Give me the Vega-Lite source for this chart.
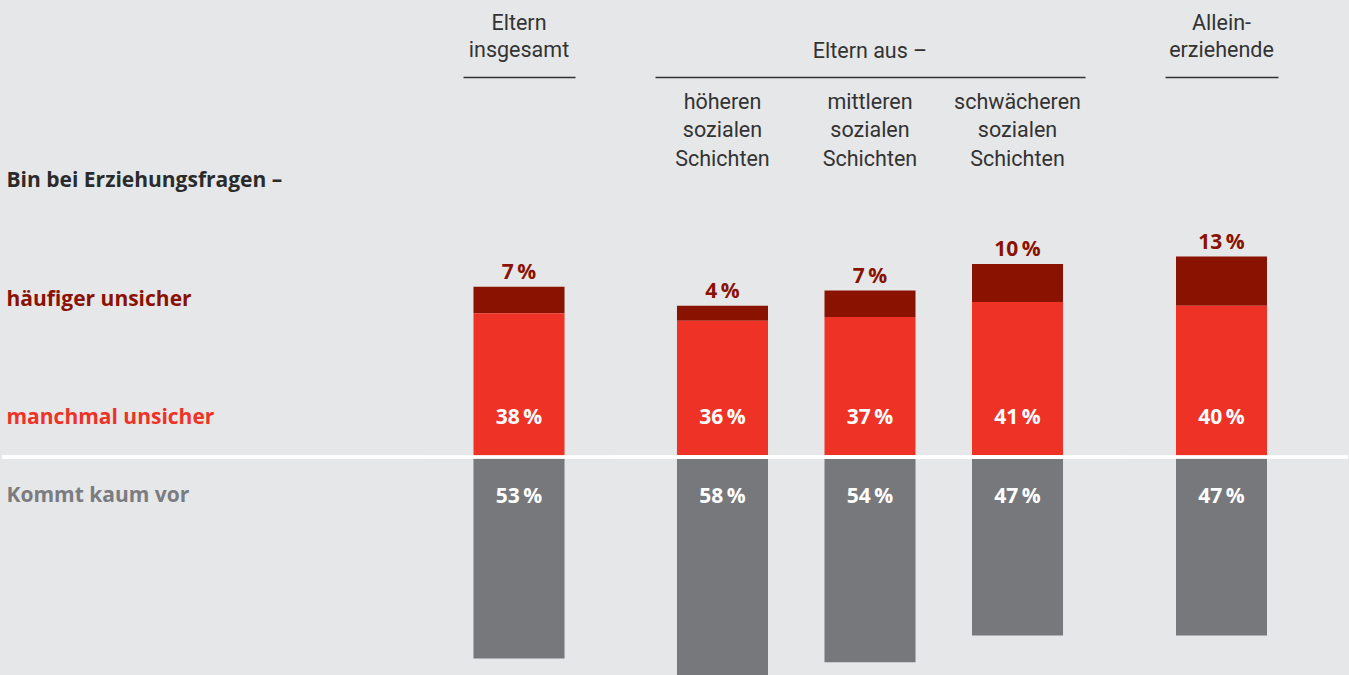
{
  "$schema": "https://vega.github.io/schema/vega-lite/v6.json",
  "background": "#e6e7e9",
  "padding": {"left": 0, "top": 12, "right": 0, "bottom": 0},
  "autosize": {"type": "pad"},
  "config": {
    "view": {"stroke": null},
    "font": "Roboto",
    "title": {"font": "Roboto", "fontSize": 21.5, "fontWeight": "normal", "color": "#333333", "lineHeight": 27.7, "offset": 15, "anchor": "middle"},
    "text": {"font": "Open Sans", "fontSize": 21, "fontWeight": "bold"}
  },
  "datasets": {
    "d": [
      {"ebene": "gesamt", "gruppe": "Eltern insgesamt", "antwort": "häufiger unsicher", "wert": 7},
      {"ebene": "gesamt", "gruppe": "Eltern insgesamt", "antwort": "manchmal unsicher", "wert": 38},
      {"ebene": "gesamt", "gruppe": "Eltern insgesamt", "antwort": "Kommt kaum vor", "wert": 53},
      {"ebene": "schicht", "gruppe": "höheren sozialen Schichten", "antwort": "häufiger unsicher", "wert": 4},
      {"ebene": "schicht", "gruppe": "höheren sozialen Schichten", "antwort": "manchmal unsicher", "wert": 36},
      {"ebene": "schicht", "gruppe": "höheren sozialen Schichten", "antwort": "Kommt kaum vor", "wert": 58},
      {"ebene": "schicht", "gruppe": "mittleren sozialen Schichten", "antwort": "häufiger unsicher", "wert": 7},
      {"ebene": "schicht", "gruppe": "mittleren sozialen Schichten", "antwort": "manchmal unsicher", "wert": 37},
      {"ebene": "schicht", "gruppe": "mittleren sozialen Schichten", "antwort": "Kommt kaum vor", "wert": 54},
      {"ebene": "schicht", "gruppe": "schwächeren sozialen Schichten", "antwort": "häufiger unsicher", "wert": 10},
      {"ebene": "schicht", "gruppe": "schwächeren sozialen Schichten", "antwort": "manchmal unsicher", "wert": 41},
      {"ebene": "schicht", "gruppe": "schwächeren sozialen Schichten", "antwort": "Kommt kaum vor", "wert": 47},
      {"ebene": "allein", "gruppe": "Alleinerziehende", "antwort": "häufiger unsicher", "wert": 13},
      {"ebene": "allein", "gruppe": "Alleinerziehende", "antwort": "manchmal unsicher", "wert": 40},
      {"ebene": "allein", "gruppe": "Alleinerziehende", "antwort": "Kommt kaum vor", "wert": 47}
    ],
    "legende": [
      {"text": "Bin bei Erziehungsfragen –"},
      {"text": "häufiger unsicher"},
      {"text": "manchmal unsicher"},
      {"text": "Kommt kaum vor"}
    ]
  },
  "spacing": 80,
  "bounds": "flush",
  "hconcat": [
    {
      "width": 380.5,
      "height": 598,
      "data": {"name": "legende"},
      "layer": [
        {
          "transform": [{"filter": "datum.text == 'Bin bei Erziehungsfragen –'"}],
          "mark": {"type": "text", "align": "left", "baseline": "alphabetic", "dx": 4.5, "color": "#2b2b2b"},
          "encoding": {
            "x": {"datum": 0, "type": "quantitative", "scale": {"domain": [0, 1]}, "axis": null},
            "y": {"datum": 71.5, "type": "quantitative", "scale": {"domain": [-57.7, 100.5], "zero": false, "nice": false}, "axis": null},
            "text": {"field": "text"}
          }
        },
        {
          "transform": [{"filter": "datum.text == 'häufiger unsicher'"}],
          "mark": {"type": "text", "align": "left", "baseline": "alphabetic", "dx": 4.5, "color": "#8a1200"},
          "encoding": {
            "x": {"datum": 0, "type": "quantitative"},
            "y": {"datum": 40.0, "type": "quantitative"},
            "text": {"field": "text"}
          }
        },
        {
          "transform": [{"filter": "datum.text == 'manchmal unsicher'"}],
          "mark": {"type": "text", "align": "left", "baseline": "alphabetic", "dx": 4.5, "color": "#ef3226"},
          "encoding": {
            "x": {"datum": 0, "type": "quantitative"},
            "y": {"datum": 8.7, "type": "quantitative"},
            "text": {"field": "text"}
          }
        },
        {
          "transform": [{"filter": "datum.text == 'Kommt kaum vor'"}],
          "mark": {"type": "text", "align": "left", "baseline": "alphabetic", "dx": 4.5, "color": "#7b7c80"},
          "encoding": {
            "x": {"datum": 0, "type": "quantitative"},
            "y": {"datum": -12.0, "type": "quantitative"},
            "text": {"field": "text"}
          }
        },
        {
          "mark": {"type": "rule", "color": "#ffffff", "strokeWidth": 3, "x2Offset": 40},
          "encoding": {
            "x": {"datum": 0, "type": "quantitative"},
            "x2": {"datum": 1},
            "y": {"datum": 0, "type": "quantitative"}
          }
        }
      ]
    },
    {
      "width": 112,
      "height": 598,
      "title": {"text": ["Eltern", "insgesamt"]},
      "data": {"name": "d"},
      "transform": [{"filter": {"field": "ebene", "equal": "gesamt"}}],
      "layer": [
        {
          "encoding": {
            "x": {"field": "gruppe", "type": "nominal", "sort": null, "title": null,
                  "scale": {"paddingInner": 0.383, "paddingOuter": 0.071},
                  "axis": {"orient": "top", "labels": false, "ticks": false, "tickSize": 0, "domainColor": "#333333", "domainWidth": 1.3, "grid": false, "title": null}}
          },
          "layer": [
            {
              "transform": [
                {"filter": "datum.antwort != 'Kommt kaum vor'"},
                {"stack": "wert", "groupby": ["gruppe"], "sort": [{"field": "antwort", "order": "descending"}], "as": ["u0", "u1"]}
              ],
              "layer": [
                {
                  "mark": {"type": "bar"},
                  "encoding": {
                    "y": {"field": "u1", "type": "quantitative", "scale": {"domain": [-57.7, 100.5], "zero": false, "nice": false}, "axis": null},
                    "y2": {"field": "u0"},
                    "color": {"field": "antwort", "type": "nominal", "scale": {"domain": ["manchmal unsicher", "häufiger unsicher"], "range": ["#ef3226", "#8a1200"]}, "legend": null}
                  }
                },
                {
                  "transform": [{"filter": "datum.antwort == 'häufiger unsicher'"}],
                  "mark": {"type": "text", "baseline": "alphabetic", "dy": -8, "color": "#8a1200", "text": {"expr": "datum.wert + '\u2009%'"}},
                  "encoding": {"y": {"field": "u1", "type": "quantitative"}}
                },
                {
                  "transform": [{"filter": "datum.antwort == 'manchmal unsicher'"}],
                  "mark": {"type": "text", "baseline": "alphabetic", "color": "#ffffff", "text": {"expr": "datum.wert + '\u2009%'"}},
                  "encoding": {"y": {"datum": 8.7, "type": "quantitative"}}
                }
              ]
            },
            {
              "transform": [{"filter": "datum.antwort == 'Kommt kaum vor'"}],
              "layer": [
                {
                  "mark": {"type": "bar", "color": "#77787c", "clip": true},
                  "encoding": {
                    "y": {"field": "wert", "type": "quantitative", "scale": {"domain": [-100, 57.37], "reverse": true, "zero": false, "nice": false}, "axis": null},
                    "y2": {"datum": 0}
                  }
                },
                {
                  "mark": {"type": "text", "baseline": "alphabetic", "color": "#ffffff", "text": {"expr": "datum.wert + '\u2009%'"}},
                  "encoding": {"y": {"datum": 12.0, "type": "quantitative"}}
                }
              ]
            }
          ],
          "resolve": {"scale": {"y": "independent"}}
        },
        {
          "mark": {"type": "rule", "color": "#ffffff", "strokeWidth": 3, "xOffset": -40, "x2Offset": 40},
          "encoding": {
            "x": {"datum": 0, "type": "quantitative", "scale": {"domain": [0, 1]}, "axis": null},
            "x2": {"datum": 1},
            "y": {"datum": 0, "type": "quantitative", "scale": {"domain": [-57.7, 100.5], "zero": false, "nice": false}, "axis": null}
          }
        }
      ],
      "resolve": {"scale": {"x": "independent", "y": "independent"}}
    },
    {
      "width": 430,
      "height": 598,
      "title": {"text": "Eltern aus –"},
      "data": {"name": "d"},
      "transform": [{"filter": {"field": "ebene", "equal": "schicht"}}],
      "layer": [
        {
          "encoding": {
            "x": {"field": "gruppe", "type": "nominal", "sort": null, "title": null,
                  "scale": {"paddingInner": 0.383, "paddingOuter": 0.149},
                  "axis": {"orient": "top", "labels": true, "labelExpr": "split(datum.label, ' ')", "labelBaseline": "top", "labelPadding": -14.5, "labelFont": "Roboto", "labelFontSize": 21.5, "labelColor": "#333333", "labelLineHeight": 28.3, "labelAngle": 0, "labelOverlap": false, "labelBound": false, "labelFlush": false, "labelLimit": 0, "ticks": false, "tickSize": 0, "domainColor": "#333333", "domainWidth": 1.3, "grid": false, "title": null}}
          },
          "layer": [
            {
              "transform": [
                {"filter": "datum.antwort != 'Kommt kaum vor'"},
                {"stack": "wert", "groupby": ["gruppe"], "sort": [{"field": "antwort", "order": "descending"}], "as": ["u0", "u1"]}
              ],
              "layer": [
                {
                  "mark": {"type": "bar"},
                  "encoding": {
                    "y": {"field": "u1", "type": "quantitative", "scale": {"domain": [-57.7, 100.5], "zero": false, "nice": false}, "axis": null},
                    "y2": {"field": "u0"},
                    "color": {"field": "antwort", "type": "nominal", "scale": {"domain": ["manchmal unsicher", "häufiger unsicher"], "range": ["#ef3226", "#8a1200"]}, "legend": null}
                  }
                },
                {
                  "transform": [{"filter": "datum.antwort == 'häufiger unsicher'"}],
                  "mark": {"type": "text", "baseline": "alphabetic", "dy": -8, "color": "#8a1200", "text": {"expr": "datum.wert + '\u2009%'"}},
                  "encoding": {"y": {"field": "u1", "type": "quantitative"}}
                },
                {
                  "transform": [{"filter": "datum.antwort == 'manchmal unsicher'"}],
                  "mark": {"type": "text", "baseline": "alphabetic", "color": "#ffffff", "text": {"expr": "datum.wert + '\u2009%'"}},
                  "encoding": {"y": {"datum": 8.7, "type": "quantitative"}}
                }
              ]
            },
            {
              "transform": [{"filter": "datum.antwort == 'Kommt kaum vor'"}],
              "layer": [
                {
                  "mark": {"type": "bar", "color": "#77787c", "clip": true},
                  "encoding": {
                    "y": {"field": "wert", "type": "quantitative", "scale": {"domain": [-100, 57.37], "reverse": true, "zero": false, "nice": false}, "axis": null},
                    "y2": {"datum": 0}
                  }
                },
                {
                  "mark": {"type": "text", "baseline": "alphabetic", "color": "#ffffff", "text": {"expr": "datum.wert + '\u2009%'"}},
                  "encoding": {"y": {"datum": 12.0, "type": "quantitative"}}
                }
              ]
            }
          ],
          "resolve": {"scale": {"y": "independent"}}
        },
        {
          "mark": {"type": "rule", "color": "#ffffff", "strokeWidth": 3, "xOffset": -40, "x2Offset": 40},
          "encoding": {
            "x": {"datum": 0, "type": "quantitative", "scale": {"domain": [0, 1]}, "axis": null},
            "x2": {"datum": 1},
            "y": {"datum": 0, "type": "quantitative", "scale": {"domain": [-57.7, 100.5], "zero": false, "nice": false}, "axis": null}
          }
        }
      ],
      "resolve": {"scale": {"x": "independent", "y": "independent"}}
    },
    {
      "width": 113,
      "height": 598,
      "title": {"text": ["Allein-", "erziehende"]},
      "data": {"name": "d"},
      "transform": [{"filter": {"field": "ebene", "equal": "allein"}}],
      "layer": [
        {
          "encoding": {
            "x": {"field": "gruppe", "type": "nominal", "sort": null, "title": null,
                  "scale": {"paddingInner": 0.383, "paddingOuter": 0.0746},
                  "axis": {"orient": "top", "labels": false, "ticks": false, "tickSize": 0, "domainColor": "#333333", "domainWidth": 1.3, "grid": false, "title": null}}
          },
          "layer": [
            {
              "transform": [
                {"filter": "datum.antwort != 'Kommt kaum vor'"},
                {"stack": "wert", "groupby": ["gruppe"], "sort": [{"field": "antwort", "order": "descending"}], "as": ["u0", "u1"]}
              ],
              "layer": [
                {
                  "mark": {"type": "bar"},
                  "encoding": {
                    "y": {"field": "u1", "type": "quantitative", "scale": {"domain": [-57.7, 100.5], "zero": false, "nice": false}, "axis": null},
                    "y2": {"field": "u0"},
                    "color": {"field": "antwort", "type": "nominal", "scale": {"domain": ["manchmal unsicher", "häufiger unsicher"], "range": ["#ef3226", "#8a1200"]}, "legend": null}
                  }
                },
                {
                  "transform": [{"filter": "datum.antwort == 'häufiger unsicher'"}],
                  "mark": {"type": "text", "baseline": "alphabetic", "dy": -8, "color": "#8a1200", "text": {"expr": "datum.wert + '\u2009%'"}},
                  "encoding": {"y": {"field": "u1", "type": "quantitative"}}
                },
                {
                  "transform": [{"filter": "datum.antwort == 'manchmal unsicher'"}],
                  "mark": {"type": "text", "baseline": "alphabetic", "color": "#ffffff", "text": {"expr": "datum.wert + '\u2009%'"}},
                  "encoding": {"y": {"datum": 8.7, "type": "quantitative"}}
                }
              ]
            },
            {
              "transform": [{"filter": "datum.antwort == 'Kommt kaum vor'"}],
              "layer": [
                {
                  "mark": {"type": "bar", "color": "#77787c", "clip": true},
                  "encoding": {
                    "y": {"field": "wert", "type": "quantitative", "scale": {"domain": [-100, 57.37], "reverse": true, "zero": false, "nice": false}, "axis": null},
                    "y2": {"datum": 0}
                  }
                },
                {
                  "mark": {"type": "text", "baseline": "alphabetic", "color": "#ffffff", "text": {"expr": "datum.wert + '\u2009%'"}},
                  "encoding": {"y": {"datum": 12.0, "type": "quantitative"}}
                }
              ]
            }
          ],
          "resolve": {"scale": {"y": "independent"}}
        },
        {
          "mark": {"type": "rule", "color": "#ffffff", "strokeWidth": 3, "xOffset": -40, "x2Offset": 70},
          "encoding": {
            "x": {"datum": 0, "type": "quantitative", "scale": {"domain": [0, 1]}, "axis": null},
            "x2": {"datum": 1},
            "y": {"datum": 0, "type": "quantitative", "scale": {"domain": [-57.7, 100.5], "zero": false, "nice": false}, "axis": null}
          }
        }
      ],
      "resolve": {"scale": {"x": "independent", "y": "independent"}}
    }
  ]
}
